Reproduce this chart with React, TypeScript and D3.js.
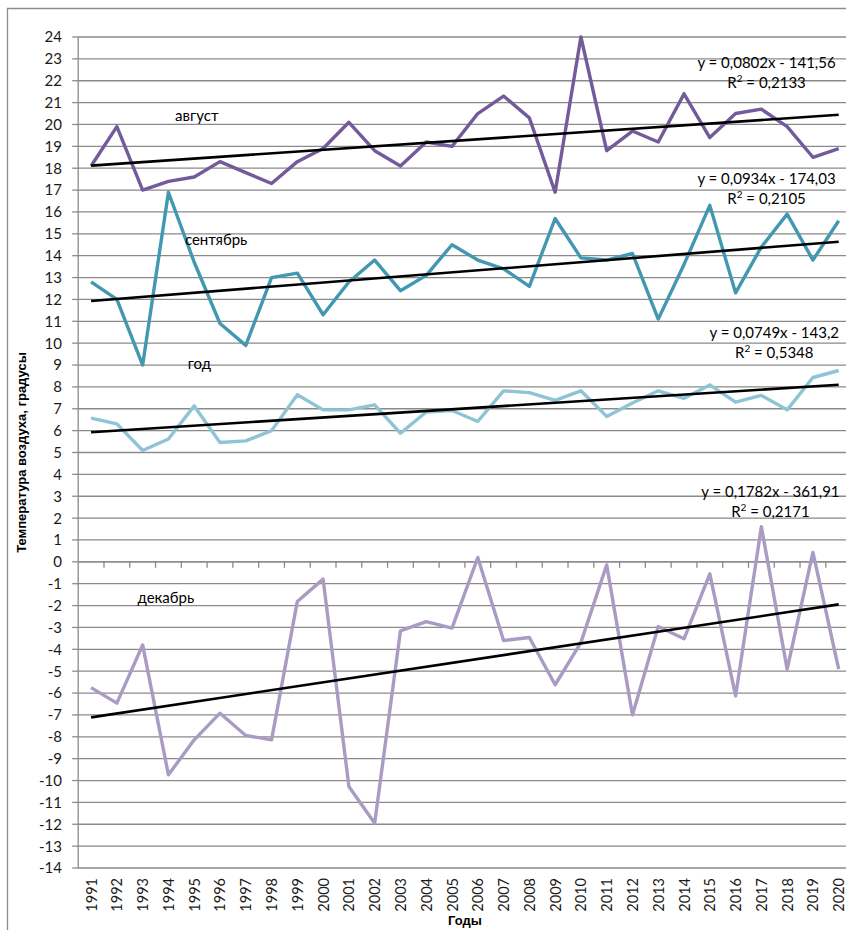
import { useMemo } from 'react';
import * as d3 from 'd3';

// Years on the category axis
const years = d3.range(1991, 2021).map(String);

// Monthly / annual mean air temperature, °C
const august = [18.1, 19.9, 17.0, 17.4, 17.6, 18.3, 17.8, 17.3, 18.3, 18.9, 20.1, 18.8, 18.1, 19.2, 19.0,
  20.5, 21.3, 20.3, 16.9, 24.0, 18.8, 19.7, 19.2, 21.4, 19.4, 20.5, 20.7, 19.9, 18.5, 18.9];
const september = [12.8, 12.0, 9.0, 16.9, 13.7, 10.9, 9.9, 13.0, 13.2, 11.3, 12.8, 13.8, 12.4, 13.1, 14.5,
  13.8, 13.4, 12.6, 15.7, 13.9, 13.8, 14.1, 11.1, 13.6, 16.3, 12.3, 14.4, 15.9, 13.8, 15.6];
const annual = [6.57, 6.31, 5.09, 5.62, 7.13, 5.46, 5.53, 6.0, 7.64, 6.95, 6.95, 7.18, 5.88, 6.85, 6.92,
  6.42, 7.82, 7.74, 7.38, 7.82, 6.65, 7.26, 7.82, 7.48, 8.09, 7.3, 7.61, 6.95, 8.43, 8.75];
const december = [-5.75, -6.46, -3.8, -9.74, -8.14, -6.92, -7.94, -8.14, -1.81, -0.79, -10.27, -11.95, -3.16,
  -2.73, -3.03, 0.2, -3.6, -3.46, -5.62, -3.69, -0.14, -7.0, -2.96, -3.52, -0.55, -6.13, 1.61, -4.91, 0.43, -4.91];

// Linear trend coefficients (slope, intercept) and R²
const trendSlopes = [0.0802, 0.0934, 0.0749, 0.1782];
const trendIntercepts = [-141.56, -174.03, -143.2, -361.91];
const trendR2 = ['0,2133', '0,2105', '0,5348', '0,2171'];
const trendEquations = ['y = 0,0802x - 141,56', 'y = 0,0934x - 174,03', 'y = 0,0749x - 143,2', 'y = 0,1782x - 361,91'];

const seriesNames = ['август', 'сентябрь', 'год', 'декабрь'];
const seriesColors = ['#735a9b', '#4198b0', '#8ec4d6', '#a99bc3'];

const yTicks = d3.range(-14, 25);

// annotation anchors in data units (year, value)
const nameAnchors: [number, number][] = [[1995.1, 20.16], [1995.85, 14.5], [1995.2, 8.82], [1993.9, -1.87]];
const eqAnchors: [number, number][] = [[2017.2, 22.6], [2017.2, 17.3], [2017.5, 10.25], [2017.35, 2.95]];

export default function App() {
  const width = 846;
  const height = 930;
  const marginLeft = 78.2;
  const band = 25.78;
  const top = 37;
  const bottom = 868;

  const x = d3.scaleBand().domain(years).range([marginLeft, marginLeft + band * years.length]);
  const y = d3.scaleLinear().domain([-14, 24]).range([bottom, top]);
  const cx = (yr: string) => (x(yr) ?? 0) + x.bandwidth() / 2;
  const xNum = d3.scaleLinear().domain([1991, 2020]).range([cx('1991'), cx('2020')]);

  const allSeries = [august, september, annual, december];

  const line = useMemo(
    () => d3.line<number>().x((_, i) => cx(years[i])).y((d) => y(d)).curve(d3.curveLinear),
    []
  );

  const font = 'Lato, "Open Sans", sans-serif';

  return (
    <svg width={width} height={height} style={{ position: 'absolute', left: 0, top: 0, background: '#fff' }}>
      {/* chart frame */}
      <path d={`M7.5,${height} V8.5 H${width}`} fill="none" stroke="#8c8c8c" strokeWidth={1.3} />

      {/* horizontal gridlines */}
      {yTicks.map((t) => (
        <line key={t} x1={marginLeft} x2={width} y1={y(t)} y2={y(t)} stroke="#8a8a8a" strokeWidth={1.3} />
      ))}

      {/* value axis */}
      <line x1={marginLeft} x2={marginLeft} y1={top} y2={bottom} stroke="#8a8a8a" strokeWidth={1.3} />
      {yTicks.map((t) => (
        <g key={t}>
          <line x1={marginLeft - 6} x2={marginLeft} y1={y(t)} y2={y(t)} stroke="#8a8a8a" strokeWidth={1.3} />
          <text x={62} y={y(t)} dy="0.36em" textAnchor="end" fontFamily={font} fontSize={15} fill="#1a1a1a">
            {t}
          </text>
        </g>
      ))}

      {/* category axis crossing at 0 */}
      <line x1={marginLeft} x2={width} y1={y(0)} y2={y(0)} stroke="#8a8a8a" strokeWidth={1.3} />
      {years.map((yr) => (
        <line key={yr} x1={(x(yr) ?? 0) + band} x2={(x(yr) ?? 0) + band} y1={y(0)} y2={y(0) + 6}
          stroke="#8a8a8a" strokeWidth={1.3} />
      ))}
      {years.map((yr) => (
        <text key={yr} transform={`translate(${cx(yr) + 5.5},${bottom + 10}) rotate(-90)`} textAnchor="end"
          fontFamily={font} fontSize={14.5} fill="#1a1a1a">
          {yr}
        </text>
      ))}

      {/* data lines */}
      {allSeries.map((s, i) => (
        <path key={i} d={line(s) ?? ''} fill="none" stroke={seriesColors[i]} strokeWidth={3.4}
          strokeLinejoin="round" />
      ))}

      {/* trend lines */}
      {trendSlopes.map((k, i) => (
        <line key={i} x1={xNum(1991)} x2={xNum(2020)}
          y1={y(k * 1991 + trendIntercepts[i])} y2={y(k * 2020 + trendIntercepts[i])}
          stroke="#000" strokeWidth={2.6} />
      ))}

      {/* series names */}
      {seriesNames.map((n, i) => (
        <text key={n} x={xNum(nameAnchors[i][0])} y={y(nameAnchors[i][1])} textAnchor="middle"
          fontFamily={font} fontSize={15} fill="#000">
          {n}
        </text>
      ))}

      {/* trend equations */}
      {trendEquations.map((eq, i) => (
        <text key={eq} textAnchor="middle" fontFamily={font} fontSize={15} fill="#000">
          <tspan x={xNum(eqAnchors[i][0])} y={y(eqAnchors[i][1])}>{eq}</tspan>
          <tspan x={xNum(eqAnchors[i][0])} y={y(eqAnchors[i][1]) + 20}>
            R<tspan fontSize={10} dy={-6}>2</tspan><tspan dy={6}> = {trendR2[i]}</tspan>
          </tspan>
        </text>
      ))}

      {/* axis titles */}
      <text transform={`translate(25.5,${(top + bottom) / 2}) rotate(-90)`} textAnchor="middle"
        fontFamily='"Liberation Sans", Arial, sans-serif' fontWeight="bold" fontSize={13} fill="#000">
        Температура воздуха, градусы
      </text>
      <text x={465} y={925} textAnchor="middle" fontFamily='"Liberation Sans", Arial, sans-serif'
        fontWeight="bold" fontSize={13} fill="#000">
        Годы
      </text>
    </svg>
  );
}
